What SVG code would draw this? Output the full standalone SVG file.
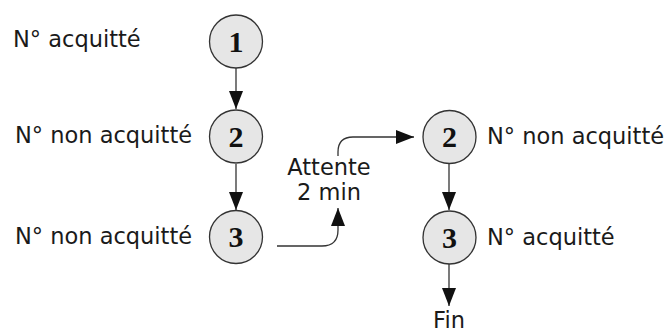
<svg xmlns="http://www.w3.org/2000/svg" width="665" height="334" viewBox="0 0 665 334">
<defs>
<style>
.node{fill:#e6e6e6;stroke:#333;stroke-width:1.3}
.num{font-family:"Liberation Serif",serif;font-weight:bold;font-size:30px;fill:#111;text-anchor:middle}
.lbl{font-family:"DejaVu Sans",sans-serif;font-size:22.5px;fill:#1a1a1a}
.edge{fill:none;stroke:#333;stroke-width:1.3}
</style>
<marker id="ah" viewBox="0 0 18 14" refX="18" refY="7" markerWidth="18" markerHeight="14" markerUnits="userSpaceOnUse" orient="auto">
<path d="M0,0 L18,7 L0,14 Z" fill="#111"/>
</marker>
</defs>
<rect width="665" height="334" fill="#fff"/>
<g id="connectors">
<path class="edge" d="M236,68 V109" marker-end="url(#ah)"/>
<path class="edge" d="M236,164 V210" marker-end="url(#ah)"/>
<path class="edge" d="M277,246 H322 Q338,246 338,230 V208" marker-end="url(#ah)"/>
<path class="edge" d="M338,156 V152 Q338,137 353,137 H414" marker-end="url(#ah)"/>
<path class="edge" d="M449,164 V210" marker-end="url(#ah)"/>
<path class="edge" d="M449,264 V306" marker-end="url(#ah)"/>
</g>
<g id="n1"><circle class="node" cx="236" cy="41.5" r="26.5"/><text class="num" x="236" y="52">1</text></g>
<g id="n2"><circle class="node" cx="236" cy="136.5" r="26.5"/><text class="num" x="236" y="147">2</text></g>
<g id="n3"><circle class="node" cx="236" cy="237" r="26.5"/><text class="num" x="236" y="247">3</text></g>
<g id="n2b"><circle class="node" cx="449.5" cy="137" r="26.5"/><text class="num" x="449.5" y="147">2</text></g>
<g id="n3b"><circle class="node" cx="449.5" cy="237.5" r="26.5"/><text class="num" x="449.5" y="247.5">3</text></g>
<g id="labels">
<text class="lbl" x="13" y="47">N° acquitté</text>
<text class="lbl" x="15" y="143">N° non acquitté</text>
<text class="lbl" x="15" y="244">N° non acquitté</text>
<text class="lbl" x="487" y="144">N° non acquitté</text>
<text class="lbl" x="487" y="245">N° acquitté</text>
<text class="lbl" x="329" y="175" text-anchor="middle" font-size="19">Attente</text>
<text class="lbl" x="329" y="200" text-anchor="middle" font-size="19">2 min</text>
<text class="lbl" x="449" y="328" text-anchor="middle" font-size="20">Fin</text>
</g>
</svg>
